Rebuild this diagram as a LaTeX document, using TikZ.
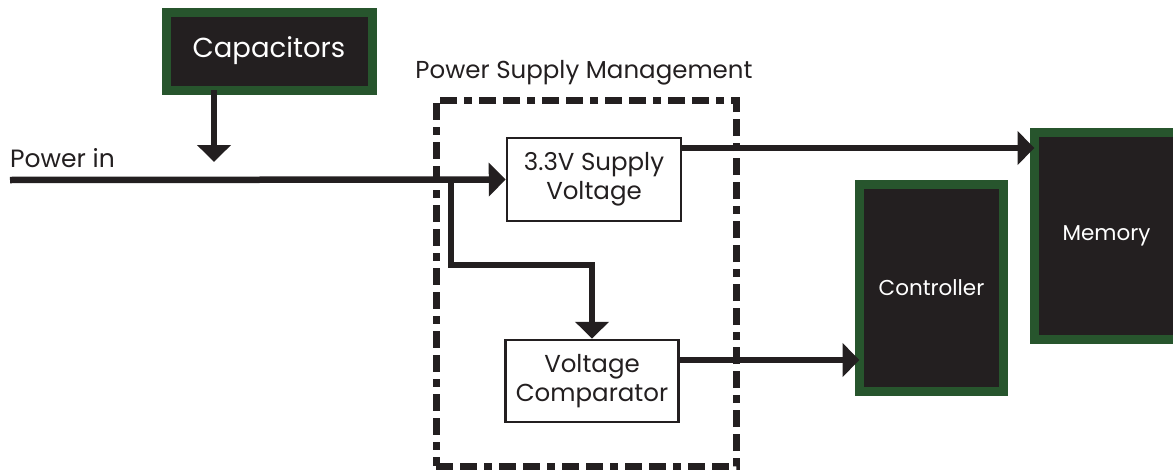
\documentclass[tikz,border=0pt]{standalone}
\usepackage{fontspec}
\setmainfont{Poppins}
\usetikzlibrary{arrows.meta,calc}
\definecolor{ink}{HTML}{231F20}
\definecolor{gborder}{HTML}{27552D}
\tikzset{
  chip/.style={draw=gborder, line width=9pt, fill=ink, text=white, inner sep=0pt, outer sep=0pt},
  blockbox/.style={draw=ink, line width=2.5pt, fill=white, text=ink, inner sep=0pt, align=center, font=\fontsize{24.5}{29}\selectfont},
  wire/.style={draw=ink, line width=6.5pt, -{Triangle[length=17pt,width=33pt]}},
  groupbox/.style={draw=ink, line width=7pt, dash pattern=on 17pt off 7pt on 17pt off 7pt on 8pt off 7pt, inner sep=0pt},
}
\begin{document}
\begin{tikzpicture}[x=1pt,y=-1pt]
\useasboundingbox (0,0) rectangle (1173,471);
\clip (0,0) rectangle (1173,471);
% group box
\node[groupbox, minimum width=300pt, minimum height=366pt] (psm) at (586,283) {};
\node[text=ink, font=\fontsize{24.5}{29}\selectfont] (psmlabel) at (584,73) {Power Supply Management};
% chips
\node[chip, minimum width=206pt, minimum height=78pt, font=\fontsize{27.5}{32}\selectfont] (cap) at (269,51) {Capacitors};
\node[chip, minimum width=144pt, minimum height=207pt, font=\fontsize{21.5}{26}\selectfont] (ctrl) at (931.5,288) {Controller};
\node[chip, minimum width=144pt, minimum height=207pt, font=\fontsize{21.5}{26}\selectfont] (mem) at (1106.5,236) {Memory};
% blocks
\node[blockbox, minimum width=174pt, minimum height=83pt] (sup) at (594,179.5) {3.3V Supply\\Voltage};
\node[blockbox, minimum width=173pt, minimum height=82pt] (cmp) at (592,381) {Voltage\\Comparator};
% text
\node[anchor=base west, inner sep=0pt, text=ink, font=\fontsize{25}{30}\selectfont] (pin) at (10,167) {Power in};
% coordinates
\coordinate (pstart) at (10,180);
\coordinate (capend) at (214,162);
\coordinate (br) at (451,180);
\coordinate (brturn) at (451,265);
\coordinate (c1) at (700,148);
\coordinate (c2) at (700,360);
% connectors
\draw[wire] (pstart) -- (sup.west);
\draw[wire] (cap.south -| capend) -- (capend);
\draw[wire, line join=miter] (br) -- (brturn) -| (cmp.north);
\draw[wire] (sup.east |- c1) -- (c1 -| mem.west);
\draw[wire] (cmp.east |- c2) -- (c2 -| ctrl.west);
\end{tikzpicture}
\end{document}
